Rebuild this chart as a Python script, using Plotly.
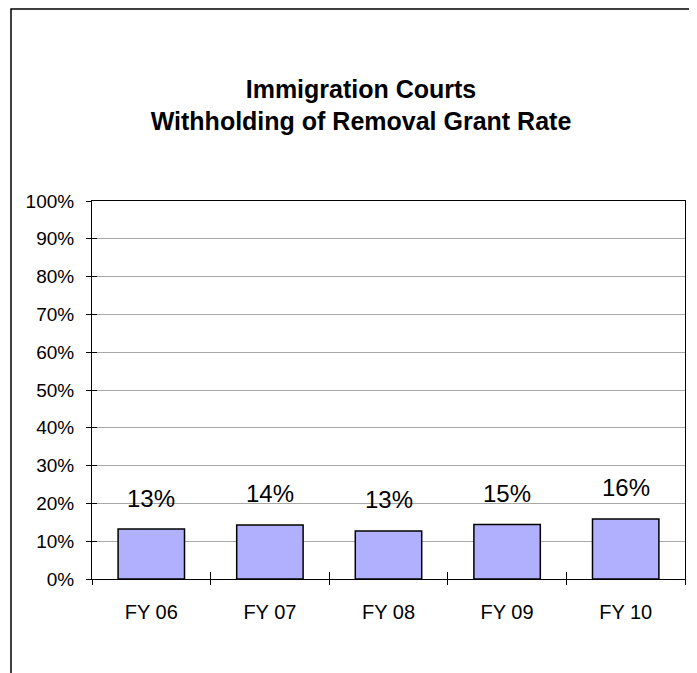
import plotly.graph_objects as go

categories = ["FY 06", "FY 07", "FY 08", "FY 09", "FY 10"]
grant_rate = [13.2, 14.3, 12.7, 14.4, 15.9]
rate_labels = ["13%", "14%", "13%", "15%", "16%"]
y_ticks = [0, 10, 20, 30, 40, 50, 60, 70, 80, 90, 100]
y_tick_labels = [f"{v}%" for v in y_ticks]

FONT = "Liberation Sans, Arial, sans-serif"
W, H = 689, 665
L, R, T, B = 84, 12, 193, 94
pw, ph = W - L - R, H - T - B

fig = go.Figure()
fig.add_trace(go.Bar(
    x=categories, y=grant_rate, width=0.56,
    marker=dict(color="#b0b0ff", line=dict(color="black", width=1.5)),
    hoverinfo="x+y", showlegend=False,
))
# invisible trace on overlay axes (for crossing tick marks)
fig.add_trace(go.Scatter(x=categories, y=grant_rate, xaxis="x2", yaxis="y2",
                         mode="markers", marker=dict(opacity=0), showlegend=False,
                         hoverinfo="skip"))

for c, v, t in zip(categories, grant_rate, rate_labels):
    fig.add_annotation(x=c, y=v, text=t, showarrow=False, yanchor="middle",
                       yshift=31, font=dict(family=FONT, size=24, color="black"))

axis_common = dict(linecolor="black", linewidth=1, tickcolor="black", ticklen=5, tickwidth=1)

fig.update_layout(
    width=W, height=H,
    margin=dict(l=L, r=R, t=T, b=B, autoexpand=False),
    paper_bgcolor="white", plot_bgcolor="white",
    font=dict(family=FONT, size=19, color="black"),
    title=dict(text="<b>Immigration Courts<br>Withholding of Removal Grant Rate</b>",
               x=353 / W, xanchor="center", xref="container",
               y=1 - 89.5 / H, yanchor="middle", yref="container",
               font=dict(family=FONT, size=25, color="black")),
    xaxis=dict(type="category", range=[-0.5, 4.5], ticks="outside", tickson="boundaries",
               showgrid=False, mirror=True, ticklabelstandoff=15,
               tickfont=dict(size=20), **axis_common),
    yaxis=dict(range=[0, 100], tickvals=y_ticks, ticktext=y_tick_labels, ticks="outside",
               showgrid=True, gridcolor="#a8a8a8", gridwidth=1, mirror=True,
               zeroline=False, ticklabelstandoff=8, **axis_common),
    xaxis2=dict(type="category", range=[-0.5, 4.5], overlaying="x", ticks="inside",
                tickson="boundaries", showgrid=False, showticklabels=False, showline=False,
                tickcolor="black", ticklen=7, tickwidth=1),
    yaxis2=dict(range=[0, 100], tickvals=y_ticks, overlaying="y", ticks="inside",
                showgrid=False, showticklabels=False, showline=False, zeroline=False,
                tickcolor="black", ticklen=5, tickwidth=1),
    bargap=0.44,
)

# outer chart border (extends past the right and bottom edges as in the reference)
fig.add_shape(type="rect", xref="paper", yref="paper",
              x0=(3 - L) / pw, x1=(W + 20 - L) / pw,
              y0=-(B + 20) / ph, y1=(H - B - 1) / ph,
              line=dict(color="black", width=1.5), fillcolor="rgba(0,0,0,0)", layer="below")

fig.write_html("out.html")
